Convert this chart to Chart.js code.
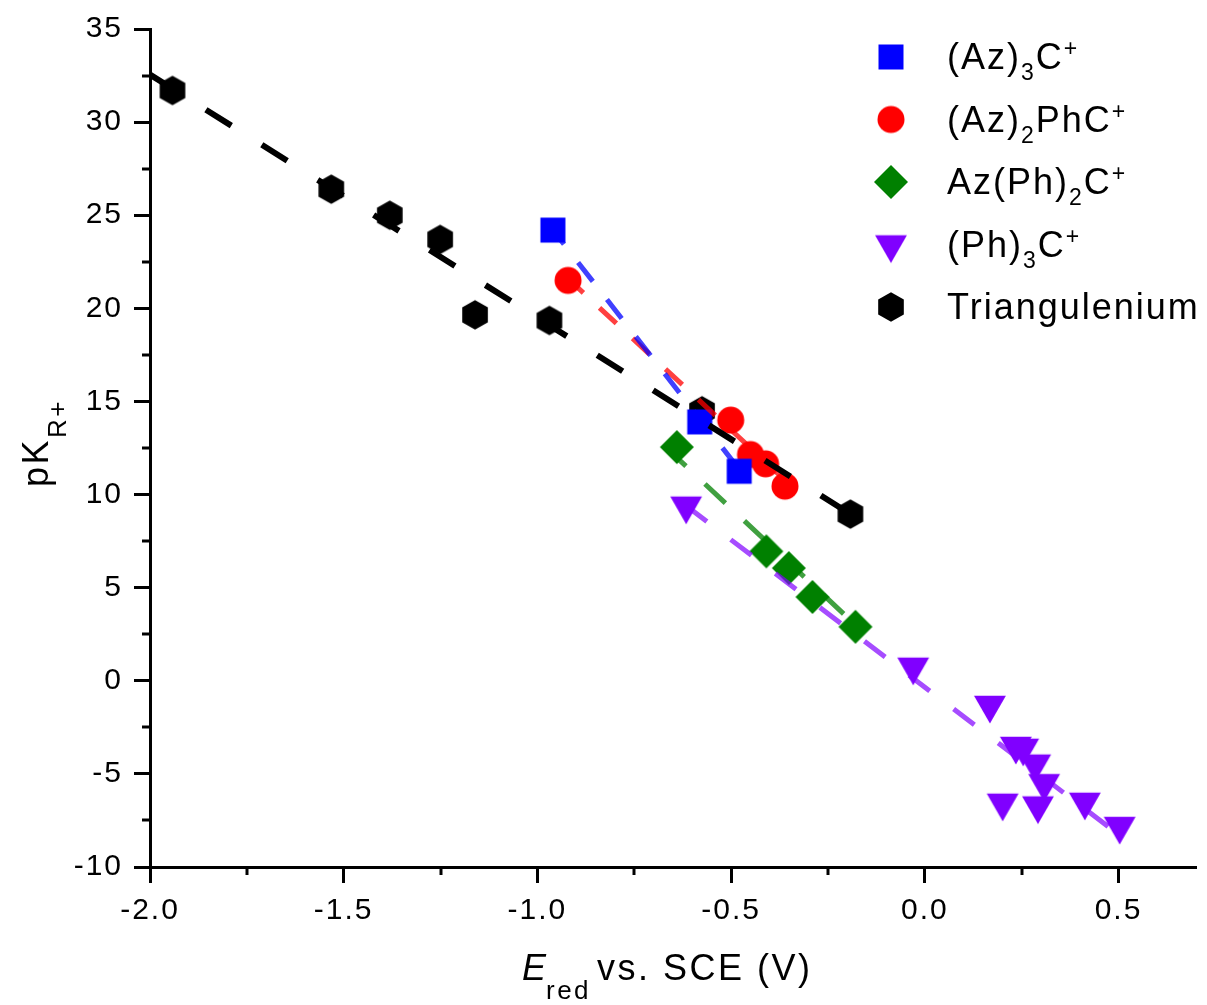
<!DOCTYPE html>
<html>
<head>
<meta charset="utf-8">
<script src="https://cdn.jsdelivr.net/npm/chart.js@4.4.1/dist/chart.umd.min.js"></script>
<style>
html,body{margin:0;padding:0;background:#ffffff;}
#wrap{width:1207px;height:1005px;position:relative;}
</style>
</head>
<body>
<div id="wrap"><canvas id="c" width="1207" height="1005"></canvas></div>
<script>
// ---------------- data ----------------
const az3X = [-0.960, -0.581, -0.479];
const az3Y = [24.2, 13.9, 11.25];
const az2phX = [-0.921, -0.501, -0.450, -0.411, -0.361];
const az2phY = [21.5, 14.0, 12.15, 11.65, 10.45];
const azph2X = [-0.640, -0.409, -0.351, -0.290, -0.179];
const azph2Y = [12.55, 6.95, 6.05, 4.5, 2.9];
const ph3X = [-0.616, -0.030, 0.168, 0.235, 0.254, 0.285, 0.308, 0.201, 0.292, 0.413, 0.503];
const ph3Y = [9.4, 0.75, -1.3, -3.5, -3.6, -4.45, -5.5, -6.55, -6.7, -6.5, -7.8];
const triX = [-1.942, -1.532, -1.381, -1.251, -1.161, -0.969, -0.575, -0.192];
const triY = [31.7, 26.4, 25.0, 23.7, 19.65, 19.35, 14.5, 8.95];

// linear-fit line end points
const fitAz3X = [-0.960, -0.481];   const fitAz3Y = [24.2, 11.4];
const fitAz2phX = [-0.921, -0.362]; const fitAz2phY = [21.6, 10.8];
const fitAzph2X = [-0.641, -0.179]; const fitAzph2Y = [12.0, 3.0];
const fitPh3X = [-0.616, 0.503];    const fitPh3Y = [9.4, -8.3];
const fitTriX = [-2.0, -0.192];     const fitTriY = [32.55, 8.95];

const seriesNames = ['(Az)3C+', '(Az)2PhC+', 'Az(Ph)2C+', '(Ph)3C+', 'Triangulenium'];
const xTickValues = [-2.0, -1.5, -1.0, -0.5, 0.0, 0.5];
const yTickValues = [-10, -5, 0, 5, 10, 15, 20, 25, 30, 35];

// ---------------- helpers ----------------
const FONT = '"Liberation Sans", Arial, Helvetica, sans-serif';
const pts = (xs, ys) => xs.map((x, i) => ({x: x, y: ys[i]}));

function marker(shape, color) {
  const S = 40, m = S / 2;
  const c = document.createElement('canvas');
  c.width = S; c.height = S;
  const g = c.getContext('2d');
  g.fillStyle = color;
  g.beginPath();
  if (shape === 'square') {
    g.rect(m - 12.5, m - 12.5, 25, 25);
  } else if (shape === 'circle') {
    g.arc(m, m, 13.5, 0, Math.PI * 2);
  } else if (shape === 'diamond') {
    const r = 17;
    g.moveTo(m, m - r); g.lineTo(m + r, m); g.lineTo(m, m + r); g.lineTo(m - r, m);
  } else if (shape === 'triangle') {
    const r = 18.4, h = r * Math.sin(Math.PI / 3);
    g.moveTo(m, m + r); g.lineTo(m - h, m - r / 2); g.lineTo(m + h, m - r / 2);
  } else if (shape === 'hexagon') {
    const r = 14.8;
    for (let i = 0; i < 6; i++) {
      const a = -Math.PI / 2 + i * Math.PI / 3;
      const px = m + r * Math.cos(a), py = m + r * Math.sin(a);
      if (i) g.lineTo(px, py); else g.moveTo(px, py);
    }
  }
  g.closePath();
  g.fill();
  return c;
}

const mk = {
  az3: marker('square', '#0000ff'),
  az2ph: marker('circle', '#ff0000'),
  azph2: marker('diamond', '#008000'),
  ph3: marker('triangle', '#8000ff'),
  tri: marker('hexagon', '#000000')
};

function fitLine(xs, ys, color, width, dash, offset) {
  return {
    type: 'scatter', data: pts(xs, ys), showLine: true, fill: false,
    borderColor: color, borderWidth: width, borderDash: dash, borderDashOffset: offset,
    borderCapStyle: 'butt', pointRadius: 0, pointHoverRadius: 0, order: 0
  };
}
function scatterSet(label, xs, ys, img) {
  return {
    type: 'scatter', label: label, data: pts(xs, ys), showLine: false,
    pointStyle: img, pointRadius: 15, pointHoverRadius: 15, order: 1,
    backgroundColor: 'rgba(0,0,0,0)', borderColor: 'rgba(0,0,0,0)'
  };
}

// rich text with sub/superscripts
function drawRich(ctx, x, y, parts, spacing) {
  ctx.save();
  ctx.textBaseline = 'alphabetic';
  ctx.textAlign = 'left';
  ctx.fillStyle = '#000';
  ctx.letterSpacing = spacing + 'px';
  let cx = x;
  for (const p of parts) {
    ctx.font = (p.italic ? 'italic ' : '') + p.size + 'px ' + FONT;
    if (p.x !== undefined) cx = p.x;
    ctx.fillText(p.t, cx, y + (p.dy || 0));
    cx += ctx.measureText(p.t).width;
  }
  ctx.restore();
  return cx;
}
function partsWidth(ctx, parts, spacing) {
  ctx.save();
  ctx.letterSpacing = spacing + 'px';
  let w = 0;
  for (const p of parts) {
    ctx.font = (p.italic ? 'italic ' : '') + p.size + 'px ' + FONT;
    w += ctx.measureText(p.t).width;
  }
  ctx.restore();
  return w;
}

const spacingPlugin = {
  id: 'spacing',
  afterInit(chart) { chart.ctx.letterSpacing = '2px'; },
  beforeLayout(chart) { chart.ctx.letterSpacing = '2px'; },
  beforeDraw(chart) { chart.ctx.letterSpacing = '2px'; }
};

const minorTicks = {
  id: 'minorTicks',
  afterDraw(chart) {
    const ctx = chart.ctx, xs = chart.scales.x, ys = chart.scales.y;
    ctx.save();
    ctx.strokeStyle = '#000';
    ctx.lineWidth = 3;
    for (let i = 0; i < xTickValues.length; i++) {
      const v = xTickValues[i] + 0.25;
      if (v >= xs.max) continue;
      const px = Math.round(xs.getPixelForValue(v));
      ctx.beginPath(); ctx.moveTo(px, ys.bottom); ctx.lineTo(px, ys.bottom + 8); ctx.stroke();
    }
    for (let i = 0; i < yTickValues.length - 1; i++) {
      const v = yTickValues[i] + 2.5;
      const py = Math.round(ys.getPixelForValue(v));
      ctx.beginPath(); ctx.moveTo(xs.left, py); ctx.lineTo(xs.left - 8, py); ctx.stroke();
    }
    ctx.restore();
  }
};

const legendAndTitles = {
  id: 'legendAndTitles',
  afterDraw(chart) {
    const ctx = chart.ctx;
    const F = 36, S = 23;
    const rows = [
      {img: mk.az3, parts: [{t: '(Az)', size: F}, {t: '3', size: S, dy: 11}, {t: 'C', size: F}, {t: '+', size: S, dy: -13}]},
      {img: mk.az2ph, parts: [{t: '(Az)', size: F}, {t: '2', size: S, dy: 11}, {t: 'PhC', size: F}, {t: '+', size: S, dy: -13}]},
      {img: mk.azph2, parts: [{t: 'Az(Ph)', size: F}, {t: '2', size: S, dy: 11}, {t: 'C', size: F}, {t: '+', size: S, dy: -13}]},
      {img: mk.ph3, parts: [{t: '(Ph)', size: F}, {t: '3', size: S, dy: 11}, {t: 'C', size: F}, {t: '+', size: S, dy: -13}]},
      {img: mk.tri, parts: [{t: 'Triangulenium', size: F}]}
    ];
    rows.forEach((r, i) => {
      const cy = 57 + i * 62.5;
      ctx.drawImage(r.img, 891 - r.img.width / 2, cy - r.img.height / 2);
      drawRich(ctx, 947, cy + 12, r.parts, 2);
    });

    // x axis title
    drawRich(ctx, 522, 980, [
      {t: 'E', size: 36, italic: true},
      {t: 'red', size: 26, dy: 19, x: 546},
      {t: 'vs. SCE (V)', size: 36, x: 597}
    ], 2.5);

    // y axis title (rotated)
    const yParts = [{t: 'pK', size: 36}, {t: 'R+', size: 26, dy: 18}];
    const w = partsWidth(ctx, yParts, 2.5);
    ctx.save();
    ctx.translate(48, 443);
    ctx.rotate(-Math.PI / 2);
    drawRich(ctx, -w / 2, 0, yParts, 2.5);
    ctx.restore();
  }
};

// ---------------- chart ----------------
const datasets = [
  fitLine(fitTriX, fitTriY, '#000000', 6, [30, 36], 0),
  fitLine(fitAz3X, fitAz3Y, 'rgba(0,0,255,0.75)', 5, [24, 23], 6),
  fitLine(fitAz2phX, fitAz2phY, 'rgba(255,0,0,0.75)', 5, [23, 22], 2),
  fitLine(fitAzph2X, fitAzph2Y, 'rgba(0,128,0,0.75)', 5, [28, 26], 15),
  fitLine(fitPh3X, fitPh3Y, 'rgba(128,0,255,0.7)', 5, [26, 30], 0),
  scatterSet(seriesNames[0], az3X, az3Y, mk.az3),
  scatterSet(seriesNames[1], az2phX, az2phY, mk.az2ph),
  scatterSet(seriesNames[2], azph2X, azph2Y, mk.azph2),
  scatterSet(seriesNames[3], ph3X, ph3Y, mk.ph3),
  scatterSet(seriesNames[4], triX, triY, mk.tri)
];

new Chart(document.getElementById('c'), {
  type: 'scatter',
  data: {datasets: datasets},
  plugins: [spacingPlugin, minorTicks, legendAndTitles],
  options: {
    responsive: false,
    animation: false,
    devicePixelRatio: 1,
    layout: {autoPadding: false, padding: {top: 28, right: 11, left: 0, bottom: 0}},
    plugins: {legend: {display: false}, tooltip: {enabled: false}, title: {display: false}},
    scales: {
      x: {
        type: 'linear', position: 'bottom', min: -2.0, max: 0.7,
        afterFit(s) { s.height = 138; s.paddingLeft = 0; s.paddingRight = 0; },
        afterBuildTicks(s) { s.ticks = xTickValues.map(v => ({value: v})); },
        ticks: {
          stepSize: 0.5, includeBounds: false, color: '#000', padding: 10,
          font: {family: FONT, size: 30},
          callback: v => (Math.abs(v) < 1e-9 ? '0.0' : Number(v).toFixed(1))
        },
        grid: {drawOnChartArea: false, drawTicks: true, tickLength: 16, tickWidth: 3, tickColor: '#000'},
        border: {display: true, color: '#000', width: 3},
        title: {display: false}
      },
      y: {
        type: 'linear', position: 'left', min: -10, max: 35,
        afterFit(s) { s.width = 150; },
        afterBuildTicks(s) { s.ticks = yTickValues.map(v => ({value: v})); },
        ticks: {
          stepSize: 5, includeBounds: false, color: '#000', padding: 11,
          font: {family: FONT, size: 30},
          callback: v => String(Math.round(v))
        },
        grid: {drawOnChartArea: false, drawTicks: true, tickLength: 16, tickWidth: 3, tickColor: '#000'},
        border: {display: true, color: '#000', width: 3},
        title: {display: false}
      }
    }
  }
});
</script>
</body>
</html>
